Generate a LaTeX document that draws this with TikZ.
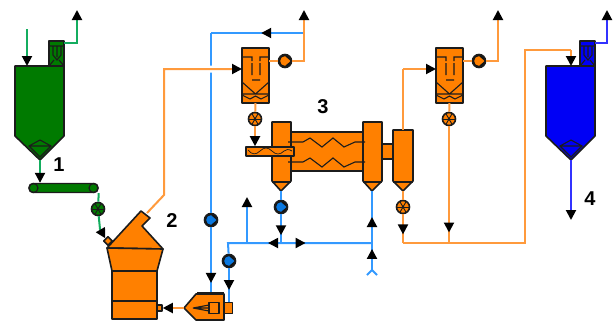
\documentclass[tikz,border=0pt]{standalone}
\usepackage{fontspec}
\setsansfont{Liberation Sans}
\usetikzlibrary{arrows.meta, decorations.markings, positioning}

\definecolor{unitorange}{HTML}{FF8000}
\definecolor{lineorange}{HTML}{FF9A3C}
\definecolor{lineblue}{HTML}{3399FF}
\definecolor{pumpblue}{HTML}{0A78E0}
\definecolor{unitgreen}{HTML}{007A00}
\definecolor{linegreen}{HTML}{14AD5F}
\definecolor{unitblue}{HTML}{0000F5}
\definecolor{linedeep}{HTML}{3333FF}
\definecolor{outline}{HTML}{1C1C1C}

\begin{document}
\begin{tikzpicture}[x=1pt, y=-1pt]
    \tikzset{
        flowtip/.tip={Triangle[length=10pt, width=10pt]},
        olineb/.style={draw=lineorange, line width=2pt},
        blineb/.style={draw=lineblue, line width=2pt},
        glineb/.style={draw=linegreen, line width=2pt},
        dlineb/.style={draw=linedeep, line width=2pt},
        endarrow/.style={-{flowtip[black]}},
        arrow at/.style={
            postaction={decorate},
            decoration={markings, mark=at position #1 with {\arrow{flowtip[black]}}}
        },
        unit/.style={draw=outline, line width=1.6pt, fill=unitorange, line join=round},
        thin unit/.style={draw=outline, line width=1.1pt},
        valve/.style={
            circle,
            draw=outline,
            line width=1.6pt,
            inner sep=0pt,
            minimum size=13pt,
            path picture={
                \foreach \ang in {0,60,...,300} {
                    \draw[outline, line width=0.9pt, shift={(path picture bounding box.center)}] (0,0) -- (\ang:6);
                }
                \fill[outline] (path picture bounding box.center) circle (1.4pt);
            }
        },
        pump/.style 2 args={
            circle,
            draw=outline,
            fill=outline!70!black,
            line width=1.6pt,
            inner sep=0pt,
            minimum size=13pt,
            path picture={
                \fill[#2, shift={(path picture bounding box.center)}, rotate=#1]
                (0,4.8) arc (90:270:4.8) -- (5.5,0) -- cycle;
            }
        },
        numlabel/.style={font=\sffamily\bfseries\fontsize{20}{20}\selectfont, inner sep=0pt},
        silo/.pic={
            \draw[unit, fill=#1] (34,0) rectangle (49,-25);
            \draw[thin unit] (34,-20) -- (49,-20)
            (38,-20) -- (38,-11) -- (42,-6) -- (46,-11) -- (46,-20) (42,-20) -- (42,-9)
            (34,0) -- (39,-6) (49,0) -- (44,-6);
            \draw[unit, fill=#1] (0,0) -- (49,0) -- (49,70) -- (25,94) -- (0,70) -- cycle;
            \draw[thin unit] (25,74) -- (36,80) -- (25,91) -- (14,80) -- cycle (14,80) -- (36,80);
            \coordinate (-inlet) at (12,0);
            \coordinate (-vent) at (49,-23);
            \coordinate (-out) at (25,94);
        },
        filter/.pic={
            \draw[unit] (0,0) rectangle (27,55);
            \draw[thin unit] (1,9) -- (10,9) -- (10,13) (26,9) -- (18,9) -- (18,13)
            (10,15) -- (10,27) (18,15) -- (18,27) (10,32) -- (18,32)
            (0,34) -- (13.5,46) -- (27,34) (0,46) -- (27,46)
            (0,47) -- (8,51) -- (13.5,48) -- (19,51) -- (27,47);
            \coordinate (-inlet) at (0,21);
            \coordinate (-fan) at (27,13);
            \coordinate (-out) at (13.5,55);
        }
    }

    \useasboundingbox (0,0) rectangle (614,322);

    % silos
    \pic (greensilo) at (15,66) {silo=unitgreen};
    \pic (bluesilo) at (546,66) {silo=unitblue};
    \coordinate (greenin) at (27,29);
    \coordinate (greentop) at (77,10);
    \coordinate (bluefeed) at (571,50);
    \coordinate (bluetop) at (607,10);
    \coordinate (blueend) at (571,220);
    \draw[glineb, endarrow] (greenin) -- (27,66);
    \draw[glineb, endarrow] (greensilo-vent) -| (greentop);
    \draw[dlineb, endarrow] (bluesilo-vent) -| (bluetop);
    \draw[dlineb, endarrow] (bluesilo-out) -- (blueend);

    % conveyor
    \node[rectangle, rounded corners=4pt, draw=outline, line width=1.4pt, fill=unitgreen, inner sep=0pt,
        minimum width=69pt, minimum height=9pt] (greenbelt) at (63.5,188) {};
    \node[circle, draw=outline, line width=1.2pt, inner sep=0pt, minimum size=9pt] (rollerleft) at (33.5,188) {};
    \node[circle, draw=outline, line width=1.2pt, inner sep=0pt, minimum size=9pt] (rollerright) at (93.5,188) {};
    \node[valve, fill=unitgreen] (greenvalve) at (98,209) {};
    \draw[glineb, endarrow] (greensilo-out) -- (greensilo-out |- greenbelt.north);
    \draw[glineb] (greenbelt.south east) -- (greenvalve);

    % mill
    \draw[unit] (107,248) -- (141,211) -- (150,218) -- (142,226) -- (163,249) -- cycle;
    \draw[unit] (107,248) -- (163,249) -- (157,271) -- (112,271) -- cycle;
    \draw[unit] (112,271) rectangle (157,319);
    \draw[unit] (112,301) -- (157,301);
    \node[rectangle, rotate=45, unit, inner sep=0pt, minimum size=6pt] (millfeed) at (108,241) {};
    \node[rectangle, unit, inner sep=0pt, minimum width=5pt, minimum height=6pt] (millport) at (159.5,308) {};
    \coordinate (greenbend) at (100,229);
    \draw[glineb, endarrow] (greenvalve) -- (greenbend) -- (millfeed.north);
    \coordinate (millout) at (147,213);
    \coordinate (millbend) at (164,195);
    \coordinate (millcorner) at (164,69);

    % burner
    \draw[unit] (184,308) -- (196,294) -- (224,294) -- (224,320) -- (196,320) -- cycle;
    \draw[outline, line width=2pt] (197,292.5) -- (224,292.5);
    \node[rectangle, unit, inner sep=0pt, minimum width=10pt, minimum height=11pt] (burnerbox) at (214,308) {};
    \node[rectangle, unit, inner sep=0pt, minimum width=8pt, minimum height=11pt] (burnerair) at (228.5,308) {};
    \draw[thin unit] (193,308) -- (209,305) (193,308) -- (209,311) (197,308) -- (209,308);
    \draw[olineb, endarrow] (184,308) -- (millport.east);

    % cooler
    \draw[unit] (272,122) -- (291,122) -- (291,181) -- (281,191) -- (272,181) -- cycle;
    \draw[unit] (363,122) -- (382,122) -- (382,181) -- (372,191) -- (363,181) -- cycle;
    \draw[unit] (393,130) -- (413,130) -- (413,181) -- (403,191) -- (393,181) -- cycle;
    \draw[thin unit] (272,182) -- (291,182) (363,182) -- (382,182) (393,182) -- (413,182);
    \draw[unit] (291,132) rectangle (363,171);
    \draw[unit] (382,144) rectangle (393,159);
    \draw[thin unit] (288,142) -- (303,142) -- (310,138) -- (322,147) -- (333,138) -- (344,147) -- (355,142) -- (365,142);
    \draw[thin unit] (288,162) -- (303,162) -- (310,158) -- (322,167) -- (333,158) -- (344,167) -- (355,162) -- (365,162);
    \coordinate (drumleft) at (281,191);
    \coordinate (drumright) at (372,191);
    \coordinate (drumcyc) at (403,191);
    \coordinate (cycroof) at (403,130);

    % screw feeder
    \node[rectangle, unit, inner sep=0pt, minimum width=48pt, minimum height=9pt] (screw) at (270,151.5) {};
    \draw[outline, line width=0.7pt] (248,150) .. controls (252,155) and (256,155) .. (260,151)
    .. controls (264,147) and (268,147) .. (272,151) .. controls (276,155) and (280,155) .. (284,151)
    .. controls (286,149) and (289,149) .. (292,151);

    % filters and fans
    \pic (filterleft) at (242,48) {filter};
    \pic (filterright) at (436,48) {filter};
    \node[pump={0}{unitorange}] (fanleft) at (285,61) {};
    \node[pump={0}{unitorange}] (fanright) at (479,61) {};
    \node[valve, fill=unitorange] (valveleft) at (255,119) {};
    \node[valve, fill=unitorange] (valveright) at (449,119) {};
    \node[valve, fill=unitorange] (valvecyc) at (403,207) {};
    \coordinate (leftstack) at (304,10);
    \coordinate (rightstack) at (498,10);
    \coordinate (stacktee) at (304,33);

    % water lines
    \coordinate (topcorner) at (211,33);
    \coordinate (airtee) at (228,243);
    \coordinate (ventbranch) at (247,243);
    \coordinate (ventend) at (247,197);
    \coordinate (hoppertee) at (281,243);
    \coordinate (risertee) at (372,243);
    \coordinate (fork) at (372,270);
    \coordinate (forkleft) at (367,275);
    \coordinate (forkright) at (377,275);
    \node[pump={-90}{pumpblue}] (pumpmain) at (211,220) {};
    \node[pump={-90}{pumpblue}] (pumpair) at (229,261) {};
    \node[pump={-90}{pumpblue}] (pumpdrum) at (281,207) {};
    \draw[blineb, arrow at=0.46] (stacktee) -- (topcorner);
    \draw[blineb] (topcorner) -- (pumpmain);
    \draw[blineb, arrow at=0.86] (pumpmain) -- (211,292);
    \draw[blineb, arrow at=0.65] (pumpair) -- (burnerair.north -| pumpair);
    \draw[blineb] (pumpair) -- (airtee) -- (risertee);
    \draw[blineb, endarrow] (ventbranch) -- (ventend);
    \draw[blineb] (drumleft) -- (pumpdrum);
    \draw[blineb, arrow at=0.73] (pumpdrum) -- (hoppertee);
    \draw[blineb, arrow at=0.38] (hoppertee) -- (ventbranch);
    \draw[blineb, arrow at=0.27] (hoppertee) -- (risertee);
    \draw[blineb, arrow at=0.5] (risertee) -- (drumright);
    \draw[blineb, arrow at=0.78] (fork) -- (risertee);
    \draw[blineb] (forkleft) -- (fork) -- (forkright);

    % gas and dust lines
    \draw[olineb, preaction={draw=white, line width=7pt}] (millout) -- (millbend) -- (millcorner) -- (232,69);
    \draw[olineb, endarrow] (232,69) -- (filterleft-inlet);
    \draw[olineb] (filterleft-fan) -- (fanleft);
    \draw[olineb, endarrow] (fanleft) -| (leftstack);
    \draw[olineb] (filterleft-out) -- (valveleft);
    \draw[olineb, endarrow] (valveleft) -- (screw.north -| valveleft);
    \coordinate (rightcorner) at (403,69);
    \draw[olineb] (cycroof) -- (rightcorner);
    \draw[olineb, endarrow] (rightcorner) -- (filterright-inlet);
    \draw[olineb] (filterright-fan) -- (fanright);
    \draw[olineb, endarrow] (fanright) -| (rightstack);
    \coordinate (dusttee) at (449,243);
    \coordinate (dustcorner) at (403,243);
    \coordinate (dustup) at (525,243);
    \coordinate (dusttop) at (525,50);
    \draw[olineb] (filterright-out) -- (valveright);
    \draw[olineb, arrow at=0.91] (valveright) -- (dusttee);
    \draw[olineb] (drumcyc) -- (valvecyc);
    \draw[olineb, arrow at=0.7] (valvecyc) -- (dustcorner);
    \draw[olineb] (dustcorner) -- (dustup) -- (dusttop) -- (bluefeed);
    \draw[olineb, endarrow] (bluefeed) -- (bluesilo-inlet -| bluefeed);

    \node[numlabel] (label1) at (59,165) {1};
    \node[numlabel] (label2) at (172,221) {2};
    \node[numlabel] (label3) at (323,107) {3};
    \node[numlabel] (label4) at (590,199) {4};
\end{tikzpicture}
\end{document}
